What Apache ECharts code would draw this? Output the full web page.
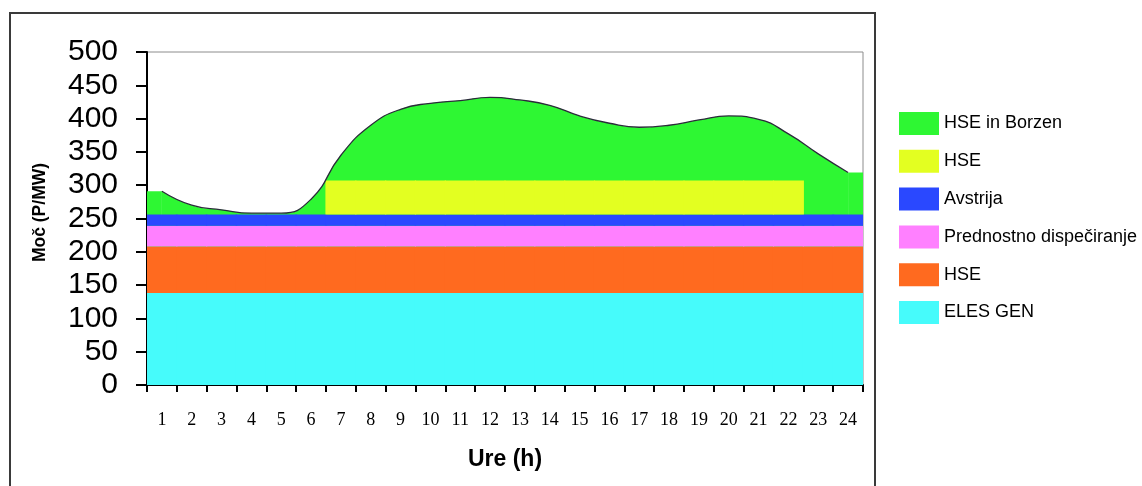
<!DOCTYPE html>
<html>
<head>
<meta charset="utf-8">
<title>Moč po urah</title>
<script src="https://cdn.jsdelivr.net/npm/echarts@6/dist/echarts.min.js"></script>
<style>
  html, body { margin: 0; padding: 0; background: #ffffff; }
  #chart { width: 1142px; height: 486px; }
</style>
</head>
<body>
<div id="chart"></div>
<script>
// Ure v dnevu
const ure = ['1','2','3','4','5','6','7','8','9','10','11','12','13','14','15','16','17','18','19','20','21','22','23','24'];

// Pasovi moči (MW) po urah
const elesGen      = [138,138,138,138,138,138,138,138,138,138,138,138,138,138,138,138,138,138,138,138,138,138,138,138];
const hseOsnovni   = [70,70,70,70,70,70,70,70,70,70,70,70,70,70,70,70,70,70,70,70,70,70,70,70];
const prednostno   = [31,31,31,31,31,31,31,31,31,31,31,31,31,31,31,31,31,31,31,31,31,31,31,31];
const avstrija     = [17,17,17,17,17,17,17,17,17,17,17,17,17,17,17,17,17,17,17,17,17,17,17,17];
const hseDnevni    = [0,0,0,0,0,0,51,51,51,51,51,51,51,51,51,51,51,51,51,51,51,51,0,0];

// Skupna moč (zgornja meja pasu HSE in Borzen)
const skupnaMoc    = [291,270,263,258,258,279,345,390,414,423,427,432,428,420,404,393,387,390,398,404,399,377,347,319];

// Oznake osi y
const yMin = 0, yMax = 500, yKorak = 50;

const barve = {
  borzen: '#2ef733',
  hseDnevni: '#e3ff21',
  avstrija: '#2a48ff',
  prednostno: '#ff80ff',
  hseOsnovni: '#ff6a1f',
  elesGen: '#46fbfb'
};

// Krivulja skupne moči na numerični osi (sredine ur)
const ureSt = ure.map(Number);
const krivulja = ureSt.map((h, i) => [h, skupnaMoc[i]]);
// Ravna podaljška od prve in zadnje ure do robov ploskve
const n = ureSt.length;
const robLevo  = [[ureSt[0] - 0.5, skupnaMoc[0]], [ureSt[0], skupnaMoc[0]]];
const robDesno = [[ureSt[n - 1], skupnaMoc[n - 1]], [ureSt[n - 1] + 0.5, skupnaMoc[n - 1]]];

const chart = echarts.init(document.getElementById('chart'), null, { renderer: 'canvas' });

// Stolpci se rahlo prekrivajo, da med sosednjimi urami ni svetlih rež
function pas(name, data, color) {
  return {
    name: name,
    type: 'bar',
    stack: 'moc',
    xAxisIndex: 0,
    yAxisIndex: 0,
    data: data.map(v => (v ? v : null)),
    barWidth: 31,
    itemStyle: { color: color, borderWidth: 0 },
    z: 2
  };
}

function zelenaPloskev(data, smooth) {
  return {
    name: 'HSE in Borzen',
    type: 'line',
    xAxisIndex: 1,
    yAxisIndex: 0,
    data: data,
    smooth: smooth,
    symbol: 'none',
    lineStyle: { width: 0, color: barve.borzen },
    itemStyle: { color: barve.borzen },
    areaStyle: { color: barve.borzen, opacity: 1 },
    z: 1
  };
}

const pisava = 'Liberation Sans, Arial, sans-serif';

chart.setOption({
  animation: false,
  backgroundColor: '#ffffff',
  graphic: [{
    type: 'rect',
    shape: { x: 10, y: 13, width: 865, height: 520 },
    style: { fill: 'none', stroke: '#3a3a3a', lineWidth: 2 },
    silent: true
  }],
  grid: {
    left: 147, top: 52, width: 716, height: 333,
    show: true,
    backgroundColor: '#ffffff',
    borderColor: '#8c8c8c',
    borderWidth: 1
  },
  legend: {
    orient: 'vertical',
    left: 899,
    top: 112,
    padding: 0,
    itemWidth: 40,
    itemHeight: 23,
    itemGap: 14.8,
    icon: 'rect',
    selectedMode: false,
    textStyle: { fontFamily: pisava, fontSize: 18, color: '#000000' },
    data: ['HSE in Borzen', 'HSE ', 'Avstrija', 'Prednostno dispečiranje', 'HSE', 'ELES GEN']
  },
  xAxis: [{
    type: 'category',
    data: ure,
    boundaryGap: true,
    name: 'Ure (h)',
    nameLocation: 'middle',
    nameGap: 63,
    nameTextStyle: { fontFamily: pisava, fontSize: 23, fontWeight: 'bold', color: '#000000' },
    axisLine: { lineStyle: { color: '#000000', width: 2 } },
    axisTick: { show: true, length: 7, interval: 0, lineStyle: { color: '#000000', width: 2 } },
    axisLabel: { interval: 0, margin: 26, fontFamily: 'Liberation Serif, Times New Roman, serif', fontSize: 18, color: '#000000' },
    splitLine: { show: false }
  }, {
    type: 'value',
    min: 0.5,
    max: 24.5,
    show: false
  }],
  yAxis: {
    type: 'value',
    min: yMin,
    max: yMax,
    interval: yKorak,
    name: 'Moč (P/MW)',
    nameLocation: 'middle',
    nameRotate: 90,
    nameGap: 98,
    nameTextStyle: { fontFamily: pisava, fontSize: 17.5, fontWeight: 'bold', color: '#000000', padding: [0, 0, 0, 12] },
    axisLine: { show: true, lineStyle: { color: '#000000', width: 2 } },
    axisTick: { show: true, length: 11, lineStyle: { color: '#000000', width: 2 } },
    axisLabel: { margin: 29, fontFamily: pisava, fontSize: 30, color: '#000000' },
    splitLine: { show: false }
  },
  series: [
    zelenaPloskev(krivulja, 0.5),
    zelenaPloskev(robLevo, false),
    zelenaPloskev(robDesno, false),
    pas('ELES GEN', elesGen, barve.elesGen),
    pas('HSE', hseOsnovni, barve.hseOsnovni),
    pas('Prednostno dispečiranje', prednostno, barve.prednostno),
    pas('Avstrija', avstrija, barve.avstrija),
    pas('HSE ', hseDnevni, barve.hseDnevni),
    {
      name: 'obris',
      type: 'line',
      xAxisIndex: 1,
      yAxisIndex: 0,
      data: krivulja,
      smooth: 0.5,
      symbol: 'none',
      lineStyle: { width: 1.3, color: '#2b2b3a' },
      z: 3
    }
  ]
});
</script>
</body>
</html>
